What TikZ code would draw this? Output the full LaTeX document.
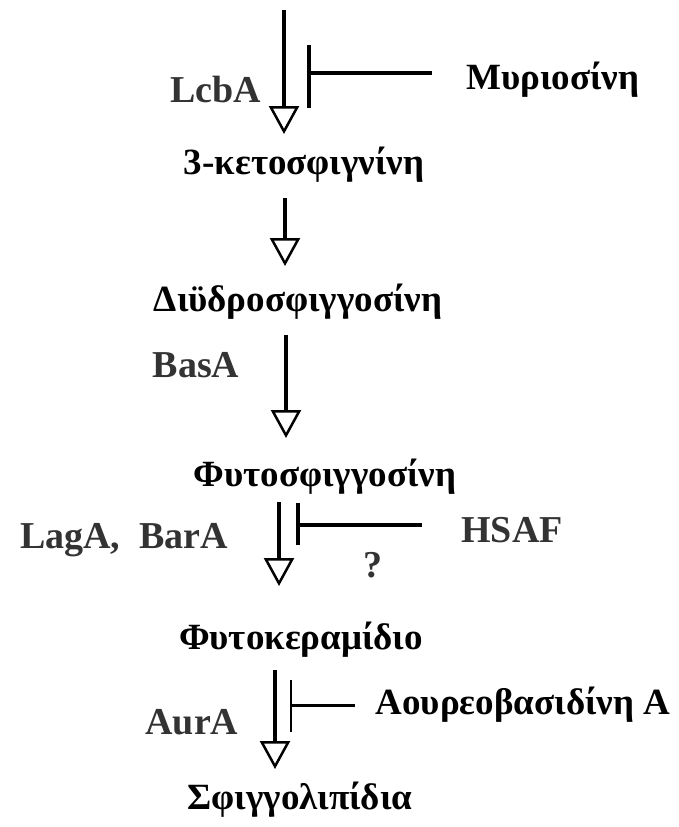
\documentclass[tikz,border=0pt]{standalone}
\usepackage{fontspec}
\setmainfont{Liberation Serif}
\usetikzlibrary{arrows.meta}
\begin{document}
\begin{tikzpicture}[x=1pt,y=-1pt,
  compound/.style={font=\fontsize{37}{42}\selectfont\bfseries, text=black, inner sep=0pt},
  enzyme/.style={font=\fontsize{38}{42}\selectfont\bfseries, text=black!80, inner sep=0pt},
  inhib/.style={font=\fontsize{37}{42}\selectfont\bfseries, text=black, inner sep=0pt},
  arr/.style={line width=3.5pt, -{Triangle[open, length=28pt, width=30pt, line width=2.5pt]}},
  barline/.style={line width=3.5pt},
  inhline/.style={line width=3.5pt}]
\useasboundingbox (0,0) rectangle (678,827);
% compounds
\node[compound] (k3)  at (304,165) {3-κετοσφιγνίνη};
\node[compound] (dih) at (298,302) {Διϋδροσφιγγοσίνη};
\node[compound] (phs) at (325,477) {Φυτοσφιγγοσίνη};
\node[compound] (phc) at (301,640) {Φυτοκεραμίδιο};
\node[compound] (sph) at (300,800) {Σφιγγολιπίδια};
% enzymes
\node[enzyme] (lcb) at (216,90) {LcbA};
\node[enzyme] (bas) at (196,365) {BasA};
\node[enzyme] (lag) at (124,540) {LagA,\ \ BarA};
\node[enzyme] (hsaf) at (512,530) {HSAF};
\node[enzyme] (q) at (373,565) {?};
\node[enzyme] (aur) at (192,722) {AurA};
% inhibitors
\node[inhib] (myr) at (553,80) {Μυριοσίνη};
\node[inhib] (aub) at (523,705) {Αουρεοβασιδίνη Α};
% arrows
\coordinate (a1s) at (284,10);  \coordinate (a1e) at (284,134);
\coordinate (a2s) at (285,198); \coordinate (a2e) at (285,266);
\coordinate (a3s) at (286,335); \coordinate (a3e) at (286,438);
\coordinate (a4s) at (279,502); \coordinate (a4e) at (279,586);
\coordinate (a5s) at (275,670); \coordinate (a5e) at (275,769);
\draw[arr] (a1s) -- (a1e);
\draw[arr] (a2s) -- (a2e);
\draw[arr] (a3s) -- (a3e);
\draw[arr] (a4s) -- (a4e);
\draw[arr, line width=4.5pt] (a5s) -- (a5e);
% inhibition bars
\coordinate (b1t) at (309,45);  \coordinate (b1b) at (309,108); \coordinate (b1m) at (309,73);  \coordinate (h1) at (432,73);
\coordinate (b2t) at (298,503); \coordinate (b2b) at (298,545); \coordinate (b2m) at (298,525); \coordinate (h2) at (422,525);
\coordinate (b3t) at (291,680); \coordinate (b3b) at (291,732); \coordinate (b3m) at (291,705); \coordinate (h3) at (355,705);
\draw[barline] (b1t) -- (b1b);
\draw[inhline] (h1) -- (b1m);
\draw[barline] (b2t) -- (b2b);
\draw[inhline] (h2) -- (b2m);
\draw[barline, line width=2.5pt] (b3t) -- (b3b);
\draw[inhline, line width=3pt] (h3) -- (b3m);
\end{tikzpicture}
\end{document}
